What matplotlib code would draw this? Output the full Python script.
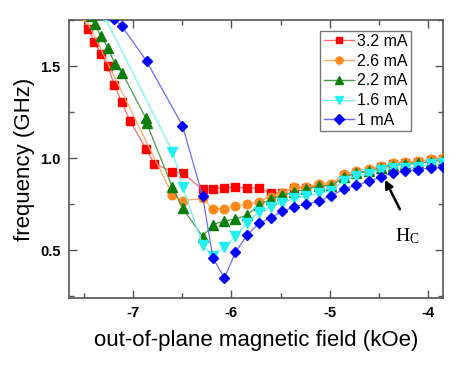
import matplotlib
matplotlib.use('Agg')
import matplotlib.pyplot as plt
from matplotlib.lines import Line2D
from matplotlib.ticker import MultipleLocator

plt.rcParams['font.family'] = ['Liberation Sans', 'DejaVu Sans']
plt.rcParams['mathtext.fontset'] = 'custom'
plt.rcParams['mathtext.rm'] = 'Liberation Serif'

# data (field in kOe, frequency in GHz)
x_grid = [-6.599, -6.495, -6.293, -6.187, -6.071, -5.959, -5.840, -5.721, -5.602, -5.483,
          -5.362, -5.240, -5.109, -4.987, -4.860, -4.735, -4.599, -4.480, -4.360, -4.235,
          -4.105, -3.977, -3.850]

h_32 = [-7.52, -7.456, -7.393, -7.327, -7.258, -7.189, -7.115, -7.031, -6.867, -6.783] + x_grid
f_32 = [1.78, 1.704, 1.632, 1.568, 1.502, 1.396, 1.304, 1.203, 1.050, 0.969,
        0.926, 0.917, 0.830, 0.833, 0.838, 0.842, 0.836, 0.837, 0.811, 0.811,
        0.838, 0.838, 0.850, 0.850, 0.900, 0.920, 0.930, 0.950, 0.965, 0.975,
        0.980, 0.990, 0.995]

h_26 = [-7.49] + x_grid
f_26 = [1.77,
        0.799, 0.768, 0.781, 0.722, 0.725, 0.737, 0.748, 0.763, 0.790, 0.810,
        0.844, 0.844, 0.859, 0.859, 0.912, 0.929, 0.940, 0.958, 0.971, 0.980,
        0.984, 0.993, 1.000]

h_22 = [-7.43, -7.388, -7.327, -7.252, -7.184, -7.112, -6.870, -6.860] + x_grid
f_22 = [1.77, 1.728, 1.663, 1.597, 1.511, 1.465, 1.218, 1.188,
        0.840, 0.727, 0.573, 0.638, 0.659, 0.668, 0.690, 0.745, 0.776, 0.799,
        0.817, 0.830, 0.848, 0.848, 0.895, 0.917, 0.929, 0.947, 0.958, 0.966,
        0.971, 0.980, 0.989]

h_16 = [-7.29] + x_grid
f_16 = [1.77,
        1.035, 0.844, 0.527, 0.469, 0.514, 0.576, 0.647, 0.708, 0.735, 0.757,
        0.781, 0.793, 0.808, 0.822, 0.875, 0.904, 0.911, 0.935, 0.944, 0.947,
        0.953, 0.966, 0.971]

h_10 = [-7.19, -7.112, -6.862, -6.497] + x_grid[2:]
f_10 = [1.755, 1.717, 1.527, 1.176,
        0.793, 0.455, 0.349, 0.488, 0.582, 0.645, 0.675, 0.710, 0.734, 0.751,
        0.765, 0.796, 0.830, 0.853, 0.873, 0.898, 0.920, 0.930, 0.937, 0.947,
        0.950]

labels = ['3.2 mA', '2.6 mA', '2.2 mA', '1.6 mA', '1 mA']
series = [(h_32, f_32), (h_26, f_26), (h_22, f_22), (h_16, f_16), (h_10, f_10)]
colors = ['#ff0000', '#ff8a1a', '#0a800a', '#22f0f0', '#0000ff']
line_colors = ['#ff6a6a', '#ffa860', '#4c9a4c', '#70f5f5', '#6a6aff']
markers = ['s', 'o', '^', 'v', 'D']
msizes = [5.8, 6.2, 6.8, 6.8, 5.6]

fig = plt.figure(figsize=(4.63, 3.65), dpi=100)
ax = fig.add_axes([0.149, 0.184, 0.808, 0.761])

handles = []
for i, (h, f) in enumerate(series):
    ax.plot(h, f, '-', color=line_colors[i], lw=0.9, zorder=2 + i)
    ax.plot(h, f, linestyle='none', marker=markers[i], ms=msizes[i],
            color=colors[i], mec=colors[i], zorder=2 + i)
    handles.append(Line2D([], [], color=line_colors[i], lw=1.0, marker=markers[i],
                          ms=msizes[i] - 1, mfc=colors[i], mec=colors[i]))

ax.set_xlim(-7.65, -3.85)
ax.set_ylim(0.24, 1.75)
ax.xaxis.set_minor_locator(MultipleLocator(0.5))
ax.yaxis.set_minor_locator(MultipleLocator(0.25))
ax.set_xticks([-7, -6, -5, -4])
ax.set_xticklabels(['-7', '-6', '-5', '-4'])
ax.set_yticks([0.5, 1.0, 1.5])
ax.set_yticklabels(['0.5', '1.0', '1.5'])
ax.tick_params(which='both', direction='in', top=True, right=True, color='#555555', width=1)
ax.tick_params(which='major', length=6, labelsize=10.5, pad=6)
ax.tick_params(which='minor', length=3.5)
for lab in ax.get_xticklabels() + ax.get_yticklabels():
    lab.set_fontweight('bold')
for sp in ax.spines.values():
    sp.set_color('#555555')
    sp.set_linewidth(1.2)

ax.set_xlabel('out-of-plane magnetic field (kOe)', fontsize=16, labelpad=7)
ax.set_ylabel('frequency (GHz)', fontsize=16, labelpad=4)

leg = ax.legend(handles, labels, loc='upper right', bbox_to_anchor=(0.914, 0.962),
                fontsize=11.5, handlelength=1.9, handletextpad=0.2, labelspacing=0.3,
                borderpad=0.2, borderaxespad=0.0, frameon=True, fancybox=False)
leg.get_frame().set_edgecolor('#555555')
leg.get_frame().set_linewidth(1.0)

ax.annotate('', xy=(-4.452, 0.895), xytext=(-4.276, 0.708),
            arrowprops=dict(arrowstyle='-|>', color='black', lw=1.8, mutation_scale=12),
            zorder=10)
ax.text(-4.34, 0.55, r'$\mathrm{H_C}$', fontsize=14, ha='left', va='baseline')

fig.savefig('out.png', dpi=100)
